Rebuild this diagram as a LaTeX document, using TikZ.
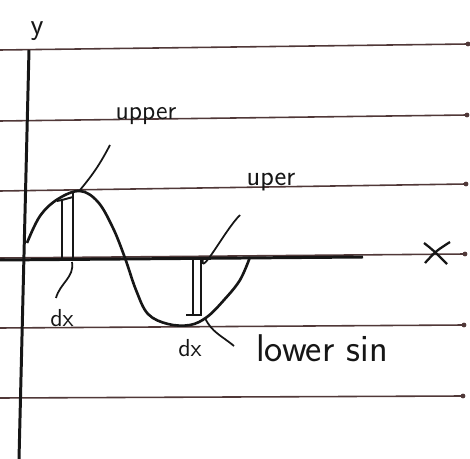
\documentclass[tikz,border=0pt]{standalone}
\usepackage{xcolor}
\definecolor{papline}{RGB}{80,56,56}
\definecolor{inkblack}{RGB}{22,22,22}
\usetikzlibrary{positioning}
\tikzset{
  ruled/.style={papline, line width=0.9pt},
  axisline/.style={inkblack, line width=1.7pt},
  sinecurve/.style={inkblack, line width=1.5pt},
  strip/.style={inkblack, line width=1.1pt},
  pointer/.style={inkblack, line width=1pt},
  hand/.style={inkblack, inner sep=1pt}
}
\begin{document}
\begin{tikzpicture}[x=0.02cm, y=-0.02cm]
\useasboundingbox (0,0) rectangle (470,459);

% === Ruled paper lines ===
\draw[ruled] (0,50) -- (468,44);
\draw[ruled] (0,121) -- (467,115);
\draw[ruled] (0,191) -- (466,184);
\draw[ruled] (0,258) -- (465,254);
\draw[ruled] (0,328) -- (464,325);
\draw[ruled] (0,398) -- (463,396);
\foreach \px/\py in {468/44, 467/115, 466/184, 465/254, 464/325, 463/396}
  \fill[papline] (\px,\py) circle (2.4);

% === Axes ===
\coordinate (ytop) at (29,50);
\coordinate (ybot) at (19,459);
\coordinate (xleft) at (0,260);
\coordinate (xright) at (363,257);
\draw[axisline] (ytop) -- (ybot);
\draw[axisline] (xleft) -- (xright);
\node[hand, font=\sffamily\fontsize{17}{17}\selectfont] (ylab) at (37,31) {y};

% cross marking the x axis
\draw[inkblack, line width=1.3pt] (424,243) .. controls (433,250) .. (447,264);
\draw[inkblack, line width=1.3pt] (425,263) .. controls (436,251) .. (450,242);

% === Sine curve ===
\draw[sinecurve] plot[smooth, tension=0.6] coordinates {
  (27,243) (40,216) (58,199) (80,191) (98,202) (113,228) (125,258)
  (136,290) (148,314) (168,324) (190,325) (207,317) (224,300)
  (240,280) (250,257)};

% === Strips ===
% upper strip
\draw[strip] (62,259) -- (62,200) -- (57,201);
\draw[strip] (73,259) -- (73,193);
\draw[strip] (62,200) -- (73,197);
% lower strip
\draw[strip] (193,258) -- (193,315);
\draw[strip] (201,258) -- (201,316);
\draw[strip] (186,315) -- (201,315);
\draw[strip] (195,259) -- (207,258);

% === Labels and pointers ===
\node[hand, font=\sffamily\fontsize{15}{15}\selectfont] (upperlab) at (146,116) {upper};
\coordinate (peak) at (80,190);
\coordinate (upperend) at (110,145);
\draw[pointer] (peak) to[bend right=6] (upperend);

\node[hand, font=\sffamily\fontsize{16}{16}\selectfont] (uperlab) at (271,182) {uper};
\coordinate (stripA) at (203,258);
\coordinate (uperend) at (240,215);
\draw[pointer] (stripA) to[out=-100, in=225] (uperend);

\node[hand, font=\sffamily\fontsize{22}{22}\selectfont] (lowerlab) at (322,348) {lower sin};
\coordinate (stripB) at (205,318);
\coordinate (lowerend) at (234,346);
\draw[pointer] (stripB) to[out=-65, in=140] (lowerend);

\node[hand, font=\sffamily\fontsize{14}{14}\selectfont] (dxone) at (62,318) {dx};
\coordinate (stripC) at (72,262);
\coordinate (dxend) at (56,298);
\draw[pointer] (stripC) to[out=-80, in=75] (dxend);

\node[hand, font=\sffamily\fontsize{14}{14}\selectfont] (dxtwo) at (190,348) {dx};

\end{tikzpicture}
\end{document}
